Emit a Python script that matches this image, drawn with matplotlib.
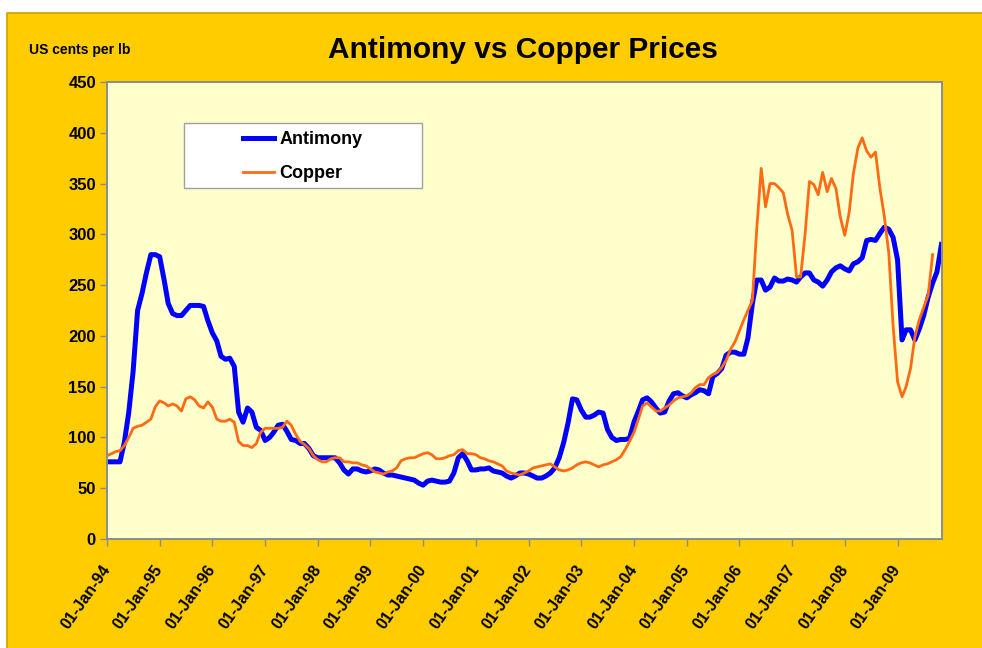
import numpy as np
import pandas as pd
import matplotlib
matplotlib.use('Agg')
import matplotlib.pyplot as plt
import matplotlib.dates as mdates
from matplotlib.patches import Rectangle
from datetime import datetime

plt.rcParams['font.family'] = ['Liberation Sans', 'DejaVu Sans']

# monthly prices, US cents per lb, starting Jan 1994
antimony = [76, 76, 76, 76, 95, 125, 165, 225, 242, 262,
            280, 280, 278, 255, 232, 222, 220, 220, 225, 230,
            230, 230, 229, 215, 203, 195, 180, 177, 178, 170,
            125, 115, 129, 125, 110, 107, 97, 100, 105, 112,
            113, 106, 98, 97, 94, 94, 89, 82, 80, 80,
            80, 80, 80, 75, 68, 64, 69, 69, 67, 66,
            67, 69, 68, 65, 63, 63, 62, 61, 60, 59,
            58, 55, 53, 57, 58, 57, 56, 56, 57, 65,
            80, 84, 77, 68, 68, 69, 69, 70, 67, 66,
            65, 62, 60, 62, 65, 65, 64, 62, 60, 60,
            62, 65, 70, 80, 95, 114, 138, 137, 127, 120,
            120, 122, 125, 124, 108, 100, 97, 98, 98, 99,
            115, 126, 137, 139, 135, 129, 124, 125, 136, 143,
            144, 141, 139, 142, 144, 147, 146, 143, 160, 163,
            168, 181, 184, 184, 182, 182, 198, 232, 255, 255,
            245, 248, 257, 254, 254, 256, 255, 253, 258, 262,
            262, 255, 253, 249, 255, 263, 267, 269, 266, 264,
            271, 273, 277, 294, 295, 294, 301, 307, 305, 297,
            275, 196, 206, 206, 196, 207, 220, 238, 252, 263,
            290]

copper = [82, 84, 86, 87, 92, 100, 109, 111, 112, 115,
          118, 130, 136, 134, 131, 133, 131, 126, 138, 140,
          137, 131, 129, 135, 130, 118, 116, 116, 118, 115,
          96, 92, 92, 90, 94, 105, 109, 109, 109, 109,
          110, 116, 112, 103, 96, 93, 89, 82, 78, 76,
          76, 79, 80, 80, 76, 76, 75, 75, 73, 72,
          69, 66, 65, 64, 66, 67, 70, 77, 79, 80,
          80, 82, 84, 85, 83, 79, 79, 80, 82, 83,
          87, 88, 84, 84, 83, 80, 79, 77, 76, 74,
          72, 67, 65, 64, 63, 65, 67, 70, 71, 72,
          73, 74, 71, 68, 67, 68, 70, 73, 75, 76,
          75, 73, 71, 73, 74, 76, 78, 81, 88, 96,
          105, 118, 131, 134, 130, 126, 126, 129, 132, 136,
          139, 140, 141, 144, 149, 152, 152, 159, 162, 164,
          169, 176, 187, 194, 205, 216, 225, 235, 305, 365,
          327, 350, 350, 346, 341, 320, 304, 258, 258, 300,
          352, 349, 339, 361, 342, 355, 345, 317, 299, 322,
          360, 385, 395, 382, 376, 381, 345, 318, 282, 210,
          155, 140, 150, 168, 199, 216, 228, 240, 280]

yticks = [0, 50, 100, 150, 200, 250, 300, 350, 400, 450]

sb_dates = pd.date_range('1994-01-01', periods=len(antimony), freq='MS')
cu_dates = pd.date_range('1994-01-01', periods=len(copper), freq='MS')

W, H = 982, 648
fig = plt.figure(figsize=(W / 100, H / 100), dpi=100, facecolor='white')
fig.add_artist(Rectangle((7 / W, -0.01), 1.05, 1 - 13 / H + 0.01, transform=fig.transFigure,
                         facecolor='#FFCC00', edgecolor='#C9A200', lw=1.2, zorder=-5))

ax = fig.add_axes([107 / W, 1 - 539 / H, (942 - 107) / W, (539 - 82) / H])
ax.set_facecolor('#FFFFCC')

ax.plot(sb_dates, antimony, color='#0000FF', lw=3.6, label='Antimony', solid_joinstyle='round')
ax.plot(cu_dates, copper, color='#FF6A13', lw=2.0, label='Copper')

ax.set_ylim(0, 450)
ax.set_yticks(yticks)
ax.set_xlim(datetime(1994, 1, 1), datetime(2009, 11, 5))
ax.xaxis.set_major_locator(mdates.YearLocator(1, month=1, day=1))
ax.xaxis.set_major_formatter(mdates.DateFormatter('%d-%b-%y'))

for s in ax.spines.values():
    s.set_color('#8C8C8C')
    s.set_linewidth(1.4)
ax.tick_params(axis='both', direction='out', length=5, width=1, color='#8C8C8C',
               labelsize=12, pad=3)
for lab in ax.get_yticklabels():
    lab.set_fontweight('bold')
for lab in ax.get_xticklabels():
    lab.set_fontweight('bold')
    lab.set_fontsize(11.5)
    lab.set_rotation(55)
    lab.set_ha('right')
    lab.set_va('center')
    lab.set_rotation_mode('anchor')
ax.tick_params(axis='x', pad=15)

# legend box
ax.add_patch(Rectangle((0.0922, 0.768), 0.285, 0.142, transform=ax.transAxes,
                       facecolor='white', edgecolor='#A0A0A0', lw=1, zorder=5))
leg = ax.legend(loc='center', bbox_to_anchor=(0.2347, 0.837), frameon=False,
                prop={'weight': 'bold', 'size': 13}, handlelength=1.7,
                handletextpad=0.3, labelspacing=0.95)
leg.set_zorder(6)

fig.text(0.5326, 0.923, 'Antimony vs Copper Prices', ha='center', va='center',
         fontsize=21.5, fontweight='bold')
fig.text(29 / W, 0.923, 'US cents per lb', ha='left', va='center', fontsize=10,
         fontweight='bold')

fig.savefig('out.png', dpi=100, facecolor=fig.get_facecolor())
